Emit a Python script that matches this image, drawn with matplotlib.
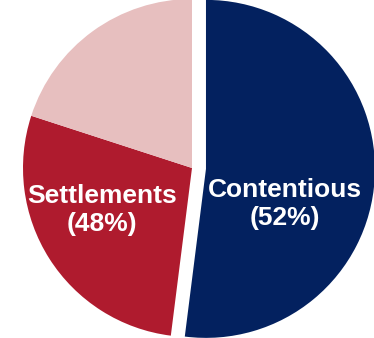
import matplotlib.pyplot as plt

# share of cases by outcome; settlements are split into two shades
categories = ["Contentious", "Settlements", "Settlements (other)"]
shares = [52, 28, 20]
colors = ["#03215F", "#AF1B2E", "#E7BFBF"]

labels = ["Contentious", "Settlements"]
label_values = [shares[0], shares[1] + shares[2]]

plt.rcParams["font.family"] = ["Liberation Sans", "DejaVu Sans"]

fig = plt.figure(figsize=(3.74, 3.38), dpi=100)
ax = fig.add_axes([0, 0, 1, 1])

# explode is in data units here since the pie is drawn at pixel scale
ax.pie(shares, colors=colors, explode=[14, 0, 0], startangle=90,
       counterclock=False, radius=169, center=(192, 170),
       wedgeprops=dict(linewidth=0, edgecolor="none"), frame=True)

ax.set_xlim(0, 374)
ax.set_ylim(0, 338)
ax.set_aspect("equal")
ax.axis("off")

label_pos = [(285, 134), (102, 128)]
for name, val, (x, y) in zip(labels, label_values, label_pos):
    ax.text(x, y, f"{name}\n({val}%)", color="white", fontsize=19,
            fontweight="bold", ha="center", va="center", linespacing=1.25)

fig.savefig("out.png", dpi=100)
